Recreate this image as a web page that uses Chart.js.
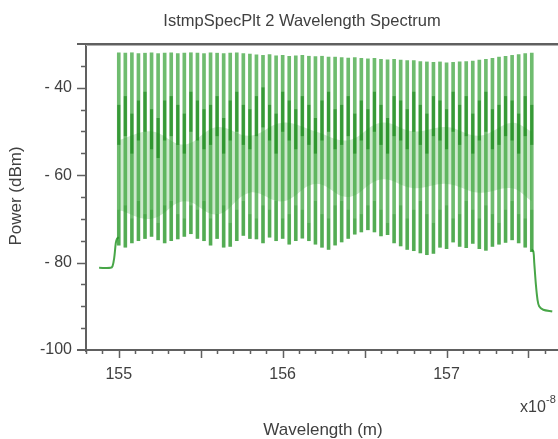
<!DOCTYPE html>
<html>
<head>
<meta charset="utf-8">
<script src="https://cdn.jsdelivr.net/npm/chart.js@4/dist/chart.umd.min.js"></script>
<style>
html,body{margin:0;padding:0;background:#fff;}
#wrap{width:558px;height:439px;position:relative;}
</style>
</head>
<body>
<div id="wrap"><canvas id="c" width="558" height="439"></canvas></div>
<script>
// ---- data (wavelength in units of 1e-8 m, power in dBm) ----
const channelWl = [
  155.00,155.04,155.08,155.12,155.16,155.20,155.24,155.28,
  155.32,155.36,155.40,155.44,155.48,155.52,155.56,155.60,
  155.64,155.68,155.72,155.76,155.80,155.84,155.88,155.92,
  155.96,156.00,156.04,156.08,156.12,156.16,156.20,156.24,
  156.28,156.32,156.36,156.40,156.44,156.48,156.52,156.56,
  156.60,156.64,156.68,156.72,156.76,156.80,156.84,156.88,
  156.92,156.96,157.00,157.04,157.08,157.12,157.16,157.20,
  157.24,157.28,157.32,157.36,157.40,157.44,157.48,157.52
];
const peakPower = [
  -32.0,-32.1,-32.0,-32.2,-32.1,-32.0,-32.2,-32.1,
  -32.0,-32.2,-32.1,-32.0,-32.1,-32.2,-32.0,-32.1,
  -32.2,-32.1,-32.0,-32.2,-32.3,-32.5,-32.6,-32.4,
  -32.7,-32.6,-32.8,-32.7,-32.6,-32.8,-32.9,-32.8,
  -33.0,-33.0,-33.1,-33.2,-33.1,-33.3,-33.4,-33.3,
  -33.5,-33.6,-33.5,-33.7,-33.8,-33.8,-34.0,-34.1,
  -34.2,-34.1,-34.3,-34.2,-34.1,-34.0,-33.9,-33.7,
  -33.5,-33.3,-33.0,-32.8,-32.6,-32.4,-32.2,-32.1
];
const floorPower = [
  -76.0,-76.5,-75.5,-75.0,-74.5,-74.0,-74.8,-75.5,
  -75.0,-74.6,-74.0,-73.4,-74.5,-75.0,-76.0,-74.5,
  -76.5,-76.3,-75.0,-73.8,-74.5,-74.6,-75.5,-74.2,
  -75.0,-74.5,-75.8,-75.0,-74.4,-75.0,-75.8,-76.5,
  -77.0,-76.0,-75.3,-74.5,-73.5,-73.0,-72.5,-73.0,
  -73.9,-73.6,-75.5,-76.2,-77.0,-77.3,-77.8,-78.2,
  -77.9,-76.5,-76.8,-75.3,-76.3,-76.6,-75.6,-76.8,
  -77.2,-76.3,-75.8,-75.4,-74.8,-75.5,-76.5,-77.5
];
const darkUpperTop = [
  -44,-42,-46,-43,-41,-45,-47,-43,-42,-44,-46,-41,-43,-45,-44,-42,
  -47,-43,-41,-44,-45,-42,-40,-44,-46,-41,-43,-45,-42,-44,-47,-43,
  -41,-45,-44,-42,-46,-43,-45,-41,-44,-47,-42,-43,-45,-41,-44,-46,
  -42,-43,-45,-41,-44,-42,-46,-43,-41,-45,-44,-42,-43,-46,-42,-44
];
const darkUpperBottom = [
  -53,-51,-55,-52,-50,-54,-56,-52,-51,-53,-55,-50,-52,-54,-53,-51,
  -55,-52,-50,-53,-54,-51,-49,-52,-55,-50,-52,-54,-51,-53,-55,-52,
  -50,-54,-53,-51,-55,-52,-54,-50,-53,-55,-51,-52,-54,-50,-53,-55,
  -51,-52,-54,-50,-53,-51,-55,-52,-50,-54,-53,-51,-52,-55,-51,-53
];
const darkLowerTop = [
  -68,-67,-70,-66,-69,-68,-71,-67,-66,-69,-70,-67,-68,-66,-70,-69,
  -67,-71,-68,-66,-69,-70,-67,-68,-66,-70,-69,-67,-68,-71,-66,-69,
  -70,-67,-66,-68,-70,-69,-67,-66,-68,-71,-69,-67,-70,-68,-66,-69,
  -71,-68,-67,-70,-69,-66,-68,-70,-67,-69,-71,-68,-66,-69,-70,-68
];
// pale inter-channel band
const bandWl     = [155.00,155.20,155.40,155.60,155.80,156.00,156.20,156.40,156.60,156.80,157.00,157.20,157.40,157.52];
const bandTop    = [-52,-50,-53,-49,-51,-48,-50,-52,-48,-50,-49,-51,-48,-50];
const bandBottom = [-68,-70,-66,-69,-64,-66,-62,-65,-61,-63,-62,-64,-63,-66];
// spectrum edges outside the comb
const leftEdgeWl  = [154.88,154.95,154.962,154.972,154.982,154.99,155.00];
const leftEdgeP   = [-81.2,-81.2,-80.8,-79.0,-75.5,-74.5,-74.2];
const rightEdgeWl = [157.52,157.53,157.535,157.545,157.555,157.565,157.59,157.645];
const rightEdgeP  = [-77.0,-77.5,-80.0,-85.0,-88.5,-90.0,-90.8,-91.2];
// axis ticks
const xTickLabels = [155,156,157];
const yTickLabels = [-100,-80,-60,-40];

const pts = (xs, ys) => xs.map((x, i) => ({x, y: ys[i]}));
const segs = (xs, lo, hi) => xs.map((x, i) => ({x, y: [lo[i], hi[i]]}));

const TXT = '#404040';
const FONT = '"Liberation Sans", Arial, sans-serif';

const decor = {
  id: 'decor',
  afterDraw(chart) {
    const {ctx, chartArea: a, scales: {x, y}} = chart;
    ctx.save();
    // axes
    ctx.strokeStyle = '#606060';
    ctx.lineWidth = 2;
    ctx.beginPath();
    ctx.moveTo(a.left - 9, a.top); ctx.lineTo(a.right, a.top);
    ctx.moveTo(a.left - 9, a.bottom); ctx.lineTo(a.right, a.bottom);
    ctx.moveTo(a.left, a.top); ctx.lineTo(a.left, a.bottom + 2);
    ctx.stroke();
    ctx.strokeStyle = '#b0b0b0'; ctx.lineWidth = 1;
    ctx.beginPath(); ctx.moveTo(a.left, a.top + 1.5); ctx.lineTo(a.right, a.top + 1.5); ctx.stroke();
    // y ticks every 5 dB
    ctx.strokeStyle = '#606060'; ctx.lineWidth = 1.5;
    ctx.beginPath();
    for (let v = y.min + 5; v < y.max; v += 5) {
      const py = Math.round(y.getPixelForValue(v)) + 0.5;
      const len = yTickLabels.includes(v) ? 9 : 5;
      ctx.moveTo(a.left - len, py); ctx.lineTo(a.left, py);
    }
    // x ticks every 0.1
    for (let k = Math.ceil(x.min * 10); k <= Math.floor(x.max * 10); k++) {
      const px = Math.round(x.getPixelForValue(k / 10)) + 0.5;
      const len = (k % 5 === 0) ? 8 : 4;
      ctx.moveTo(px, a.bottom); ctx.lineTo(px, a.bottom + len);
    }
    ctx.stroke();
    // texts
    ctx.fillStyle = TXT;
    ctx.textBaseline = 'alphabetic';
    ctx.textAlign = 'center';
    ctx.font = '16.5px ' + FONT;
    ctx.fillText('IstmpSpecPlt 2 Wavelength Spectrum', 302, 26);
    ctx.font = '17px ' + FONT;
    ctx.fillText('Wavelength (m)', 323, 435);
    ctx.textAlign = 'left';
    ctx.font = '16px ' + FONT;
    ctx.fillText('x10', 520, 412);
    ctx.font = '11px ' + FONT;
    ctx.fillText('-8', 546, 403);
    ctx.save();
    ctx.translate(21, 196);
    ctx.rotate(-Math.PI / 2);
    ctx.textAlign = 'center';
    ctx.font = '17px ' + FONT;
    ctx.fillText('Power (dBm)', 0, 0);
    ctx.restore();
    ctx.restore();
  }
};

new Chart(document.getElementById('c'), {
  type: 'bar',
  data: {
    datasets: [
      { type: 'line', label: 'left edge', data: pts(leftEdgeWl, leftEdgeP),
        borderColor: 'rgba(40,150,40,0.85)', borderWidth: 2, pointRadius: 0, tension: 0.3, order: 1 },
      { type: 'line', label: 'right edge', data: pts(rightEdgeWl, rightEdgeP),
        borderColor: 'rgba(40,150,40,0.85)', borderWidth: 2, pointRadius: 0, tension: 0.3, order: 1 },
      { label: 'upper dark', data: segs(channelWl, darkUpperBottom, darkUpperTop), grouped: false,
        backgroundColor: 'rgba(0,120,0,0.5)', barThickness: 2.5, order: 2 },
      { label: 'lower dark', data: segs(channelWl, floorPower, darkLowerTop), grouped: false,
        backgroundColor: 'rgba(0,125,0,0.25)', barThickness: 2.5, order: 2 },
      { label: 'channels', data: segs(channelWl, floorPower, peakPower), grouped: false,
        backgroundColor: 'rgba(50,160,50,0.7)', barThickness: 3, order: 3 },
      { type: 'line', label: 'band top', data: pts(bandWl, bandTop), fill: '+1',
        backgroundColor: 'rgba(130,200,130,0.4)', borderWidth: 0, borderColor: 'rgba(0,0,0,0)',
        pointRadius: 0, tension: 0.4, order: 4 },
      { type: 'line', label: 'band bottom', data: pts(bandWl, bandBottom), fill: false,
        borderWidth: 0, borderColor: 'rgba(0,0,0,0)', pointRadius: 0, tension: 0.4, order: 5 }
    ]
  },
  options: {
    responsive: false,
    animation: false,
    devicePixelRatio: 1,
    layout: { padding: { top: 44, right: 0, bottom: 0, left: 0 } },
    plugins: { legend: { display: false }, tooltip: { enabled: false }, title: { display: false } },
    scales: {
      x: {
        type: 'linear', min: 154.8, max: 157.68, offset: false,
        grid: { display: false, drawTicks: false }, border: { display: false },
        afterFit: s => { s.height = 89; },
        afterBuildTicks: s => { s.ticks = xTickLabels.map(v => ({value: v})); },
        ticks: { padding: 15, color: TXT, font: { size: 16, family: FONT }, maxRotation: 0,
                 callback: v => String(v) }
      },
      y: {
        type: 'linear', min: -100, max: -30,
        grid: { display: false, drawTicks: false }, border: { display: false },
        afterFit: s => { s.width = 86; },
        afterBuildTicks: s => { s.ticks = yTickLabels.map(v => ({value: v})); },
        ticks: { padding: 14, color: TXT, font: { size: 16, family: FONT },
                 callback: v => v === -100 ? '-100' : '- ' + Math.abs(v) }
      }
    }
  },
  plugins: [decor]
});
</script>
</body>
</html>
